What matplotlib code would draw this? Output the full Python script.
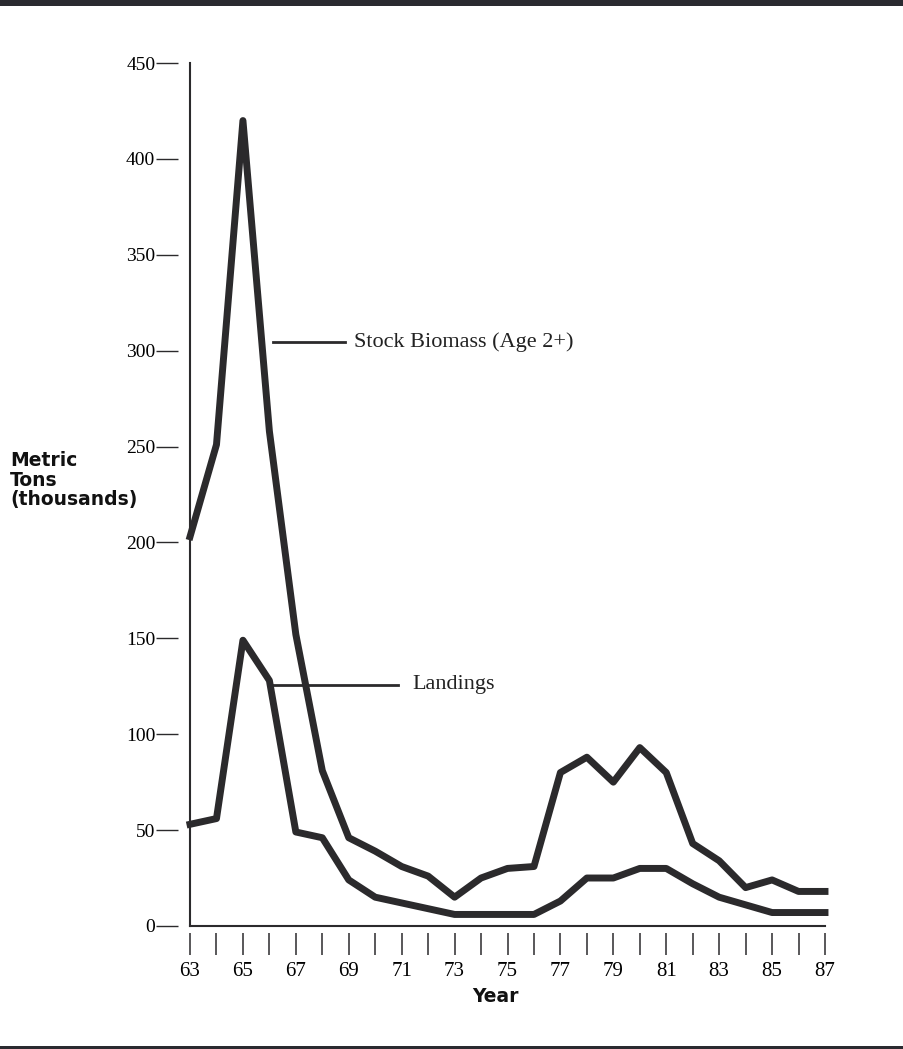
import numpy as np
import matplotlib.pyplot as plt
from matplotlib.patches import Rectangle

# data (metric tons, thousands)
years = np.arange(63, 88)
stock_biomass = [203, 251, 420, 258, 152, 81, 46, 39, 31, 26, 15, 25, 30, 31, 80,
                 88, 75, 93, 80, 43, 34, 20, 24, 18, 18]
landings = [53, 56, 149, 128, 49, 46, 24, 15, 12, 9, 6, 6, 6, 6, 13,
            25, 25, 30, 30, 22, 15, 11, 7, 7, 7]
y_ticks = [0, 50, 100, 150, 200, 250, 300, 350, 400, 450]
x_labels = [str(y) if y % 2 == 1 else '' for y in years]
y_title = ['Metric', 'Tons', '(thousands)']

line_col = '#2b2a2c'
serif = 'Liberation Serif'

fig = plt.figure(figsize=(9.04, 10.49), dpi=100)
ax = fig.add_axes([0.2102, 0.1173, 0.7024, 0.8226])

ax.plot(years, stock_biomass, color=line_col, lw=5, clip_on=False)
ax.plot(years, landings, color=line_col, lw=5, clip_on=False)

ax.set_xlim(63, 87)
ax.set_ylim(0, 450)

# visible axis lines drawn by hand, ticks sit on offset invisible spines
ax.axhline(0, color=line_col, lw=1.5, clip_on=False)
ax.axvline(63, color=line_col, lw=1.5, clip_on=False)
for s in ['top', 'right', 'left', 'bottom']:
    ax.spines[s].set_visible(False)
ax.spines['left'].set_position(('outward', 9))
ax.spines['bottom'].set_position(('outward', 5))

ax.set_yticks(y_ticks)
ax.set_yticklabels([str(v) for v in y_ticks], family=serif, fontsize=14)
ax.tick_params(axis='y', length=16, width=1.0, color=line_col, pad=0)

ax.set_xticks(years)
ax.set_xticklabels(x_labels, family=serif, fontsize=15)
ax.tick_params(axis='x', length=16, width=1.1, color=line_col, pad=5)

# labels on the lines
ax.plot([66.14, 68.86], [304.5, 304.5], color=line_col, lw=2)
ax.text(69.2, 304.5, 'Stock Biomass (Age 2+)', family=serif, fontsize=16,
        va='center', ha='left', color='#222222')
ax.plot([66.14, 70.85], [125.7, 125.7], color=line_col, lw=2)
ax.text(71.4, 125.7, 'Landings', family=serif, fontsize=16,
        va='center', ha='left', color='#222222')

# y title, one line per text so the short lines stay clear of the tick labels
for i, t in enumerate(y_title):
    fig.text(10 / 904, 1 - (461 + 19 * i) / 1049, t, family='DejaVu Sans',
             fontweight='bold', fontsize=13.5, ha='left', va='center', color='#111111')
fig.text(495 / 904, 1 - 997 / 1049, 'Year', family='DejaVu Sans', fontweight='bold',
         fontsize=13.5, ha='center', va='center', color='#111111')

# dark bands at top and bottom of the page
fig.add_artist(Rectangle((0, 1 - 6 / 1049), 1, 6 / 1049, transform=fig.transFigure,
                         color='#2a2a30', lw=0))
fig.add_artist(Rectangle((0, 0), 1, 3 / 1049, transform=fig.transFigure,
                         color='#2a2a30', lw=0))

fig.savefig('out.png', dpi=100)
